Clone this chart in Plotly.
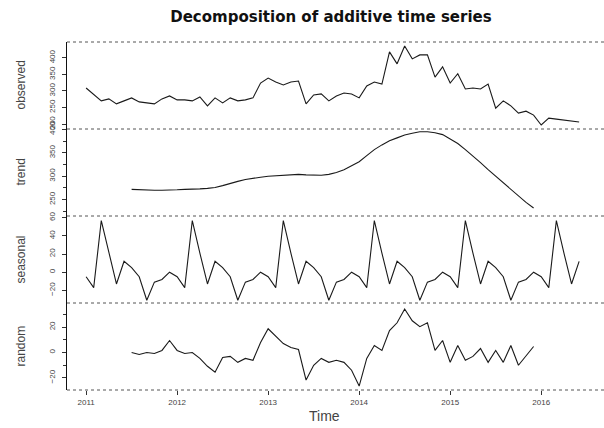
import plotly.graph_objects as go
from plotly.subplots import make_subplots

# ---- data (monthly, Jan 2011 .. Jun 2016) ----
start_year = 2011
observed = [309, 288, 270, 276, 261, 270, 279, 267, 264, 261, 276, 285,
            273, 273, 270, 282, 255, 279, 264, 279, 270, 273, 279, 324,
            339, 327, 318, 327, 330, 261, 288, 291, 270, 285, 294, 291,
            279, 315, 327, 321, 418, 382, 436, 397, 409, 409, 342, 373,
            324, 352, 306, 309, 306, 321, 248, 270, 255, 233, 239, 227,
            197, 218, 215, 212, 209, 206]

trend_start = 6  # Jul 2011
trend = [272, 271, 270, 270, 270, 270, 271, 272, 272, 273, 274, 276,
         280, 285, 289, 293, 296, 298, 300, 301, 302, 303, 304, 303,
         302, 302, 304, 308, 314, 323, 331, 344, 357, 367, 376, 382,
         388, 392, 395, 395, 393, 389, 380, 370, 357, 344, 329, 314,
         300, 285, 270, 257, 244, 232]

seasonal = [-5, -17, 57, 21, -13, 12, 5, -5, -31, -11, -8, 0,
            -5, -17, 57, 21, -13, 12, 5, -5, -31, -11, -8, 0,
            -5, -17, 57, 21, -13, 12, 5, -5, -31, -11, -8, 0,
            -5, -17, 57, 21, -13, 12, 5, -5, -31, -11, -8, 0,
            -5, -17, 57, 21, -13, 12, 5, -5, -31, -11, -8, 0,
            -5, -17, 57, 21, -13, 12]

random_part = [0.0, -1.6, 0.0, -0.8, 1.6, 9.4, 1.6, -0.8, 0.0, -4.7, -10.9, -15.6,
               -3.9, -3.1, -7.8, -4.7, -6.2, 7.8, 18.7, 12.5, 7.0, 3.9, 2.3, -21.8,
               -10.1, -4.7, -7.8, -6.2, -7.8, -14.0, -26.5, -4.7, 5.5, 1.6, 17.2, 23.4,
               34.3, 25.0, 20.3, 23.4, 1.6, 9.4, -7.8, 5.5, -6.2, -3.1, 3.1, -7.8,
               1.6, -7.8, 5.5, -10.1, -3.1, 4.7]

year_ticks = [2011, 2012, 2013, 2014, 2015, 2016]
panel_names = ["observed", "trend", "seasonal", "random"]

t_obs = [start_year + i / 12 for i in range(len(observed))]
t_trend = [start_year + (trend_start + i) / 12 for i in range(len(trend))]
t_seas = [start_year + i / 12 for i in range(len(seasonal))]
t_rand = [start_year + (trend_start + i) / 12 for i in range(len(random_part))]

fig = make_subplots(rows=4, cols=1, shared_xaxes=True, vertical_spacing=0)
line = dict(color="#1a1a1a", width=1.1)
fig.add_trace(go.Scatter(x=t_obs, y=observed, mode="lines", line=line), row=1, col=1)
fig.add_trace(go.Scatter(x=t_trend, y=trend, mode="lines", line=line), row=2, col=1)
fig.add_trace(go.Scatter(x=t_seas, y=seasonal, mode="lines", line=line), row=3, col=1)
fig.add_trace(go.Scatter(x=t_rand, y=random_part, mode="lines", line=line), row=4, col=1)

yspecs = [
    dict(range=[185, 448], tick0=0, dtick=50),
    dict(range=[215, 401], tick0=0, dtick=50, minor=dict(dtick=25, ticks="outside", ticklen=3, tickcolor="#333")),
    dict(range=[-34, 62], tick0=0, dtick=20),
    dict(range=[-29.6, 39], tick0=0, dtick=20, minor=dict(dtick=10, ticks="outside", ticklen=3, tickcolor="#333")),
]
for r, spec in enumerate(yspecs, start=1):
    fig.update_yaxes(row=r, col=1, showgrid=False, zeroline=False, showline=True,
                     linecolor="#111", linewidth=1, ticks="outside", ticklen=4,
                     tickcolor="#333", tickangle=-90, tickmode="linear",
                     tickfont=dict(family="Liberation Sans", size=8, color="#444"),
                     ticklabelstandoff=4, **spec)

for r in range(1, 5):
    fig.update_xaxes(row=r, col=1, showgrid=False, zeroline=False, showline=False,
                     range=[2010.79, 2016.69])
fig.update_xaxes(row=4, col=1, ticks="outside", ticklen=4, tickcolor="#333",
                 tickmode="array", tickvals=year_ticks, ticktext=[str(y) for y in year_ticks],
                 tickfont=dict(family="Liberation Sans", size=8, color="#444"))

shapes = []
for yb in [0, 0.25, 0.5, 0.75, 1.0]:
    shapes.append(dict(type="line", xref="paper", yref="paper", x0=0, x1=1, y0=yb, y1=yb,
                       line=dict(color="#555", width=1, dash="dot")))

annotations = []
centers = [0.875, 0.625, 0.375, 0.125]
for name, yc in zip(panel_names, centers):
    annotations.append(dict(text=name, xref="paper", yref="paper", x=-0.0875, y=yc,
                            textangle=-90, showarrow=False, xanchor="center", yanchor="middle",
                            font=dict(family="Liberation Sans", size=12, color="#444")))
annotations.append(dict(text="Time", xref="paper", yref="paper", x=0.48, y=-0.075,
                        showarrow=False, xanchor="center", yanchor="middle",
                        font=dict(family="Liberation Sans", size=14, color="#444")))

fig.update_layout(
    width=604, height=428,
    margin=dict(l=67, r=0, t=42, b=38),
    plot_bgcolor="white", paper_bgcolor="white",
    showlegend=False,
    shapes=shapes, annotations=annotations,
    title=dict(text="<b>Decomposition of additive time series</b>", x=0.548, xanchor="center",
               y=0.96, yanchor="middle",
               font=dict(family="DejaVu Sans", size=15, color="#111")),
)

fig.write_html("out.html", config={"displayModeBar": False},
               post_script="document.body.style.margin='0px';")
